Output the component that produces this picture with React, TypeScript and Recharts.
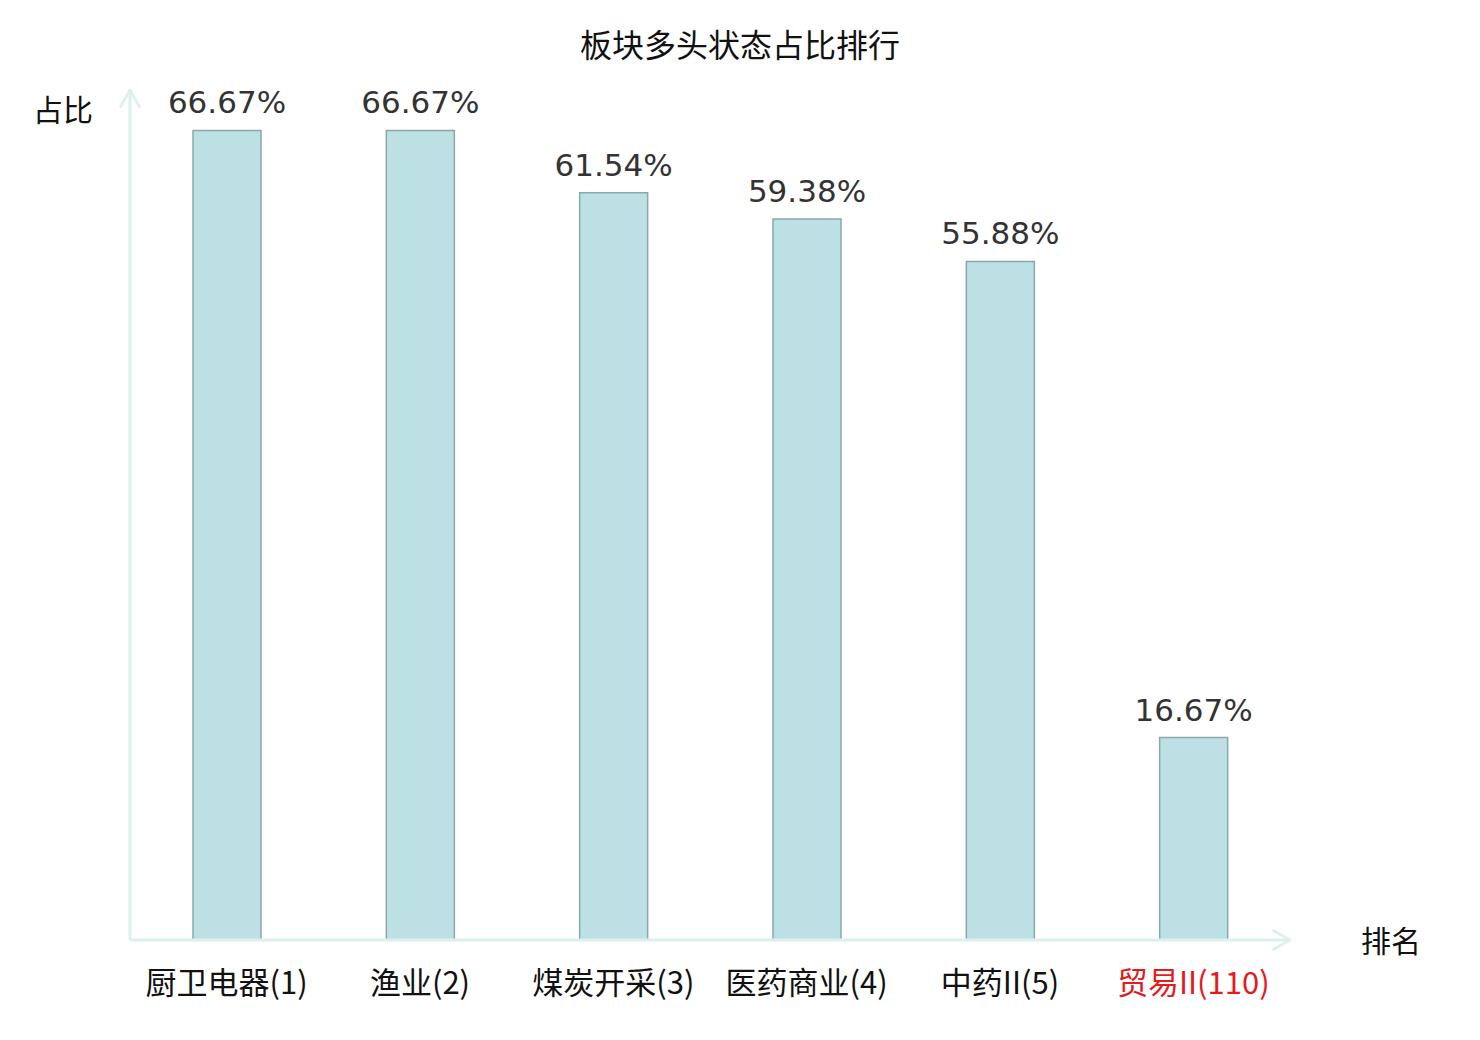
import React from "react";
import { BarChart, Bar, XAxis, YAxis, LabelList } from "recharts";

const categories = ["厨卫电器(1)", "渔业(2)", "煤炭开采(3)", "医药商业(4)", "中药II(5)", "贸易II(110)"];
const ratios = [66.67, 66.67, 61.54, 59.38, 55.88, 16.67];
const highlight = "贸易II(110)";

const data = categories.map((name, i) => ({ name, value: ratios[i] }));

const cjk = '"Noto Sans CJK SC", "Noto Sans", sans-serif';
const axisColor = "#dcf1ee";

function Tick(props: any) {
  const { x, y, payload } = props;
  const red = payload.value === highlight;
  return (
    <text
      x={x}
      y={y + 46}
      textAnchor="middle"
      fontSize={31}
      fontFamily={cjk}
      fill={red ? "#e41a1c" : "#111"}
    >
      {payload.value}
    </text>
  );
}

// arrowheads for the axis lines, defined inside the svg through a label
const ArrowDefs = () => (
  <defs>
    <marker
      id="arr"
      viewBox="0 0 20 20"
      refX="19"
      refY="10"
      markerWidth="22"
      markerHeight="22"
      orient="auto-start-reverse"
      markerUnits="userSpaceOnUse"
    >
      <path d="M3,1 L19,10 L3,19" fill="none" stroke={axisColor} strokeWidth="2.6" />
    </marker>
  </defs>
);

export default function App() {
  return (
    <div style={{ position: "absolute", left: 0, top: 0, width: 1480, height: 1040, background: "#fff" }}>
      <div
        style={{
          position: "absolute",
          top: 20,
          width: 1480,
          textAlign: "center",
          fontFamily: cjk,
          fontSize: 32,
          color: "#111",
        }}
      >
        板块多头状态占比排行
      </div>
      <BarChart
        width={1480}
        height={1040}
        data={data}
        margin={{ top: 90, right: 190, left: 120, bottom: 40 }}
        barCategoryGap={0}
      >
        <XAxis
          dataKey="name"
          height={60}
          interval={0}
          tickLine={false}
          axisLine={{ stroke: axisColor, strokeWidth: 3, markerEnd: "url(#arr)" } as any}
          tick={<Tick />}
          label={(p: any) => (
            <g>
              <ArrowDefs />
              <text
                x={p.viewBox.x + p.viewBox.width + 101}
                y={p.viewBox.y + 12}
                textAnchor="middle"
                fontSize={30}
                fontFamily={cjk}
                fill="#111"
              >
                排名
              </text>
            </g>
          )}
        />
        <YAxis
          width={10}
          domain={[0, 70]}
          tick={false}
          tickLine={false}
          axisLine={{ stroke: axisColor, strokeWidth: 3, markerStart: "url(#arr)" } as any}
          label={(p: any) => (
            <text
              x={p.viewBox.x + p.viewBox.width - 67}
              y={p.viewBox.y + 31}
              textAnchor="middle"
              fontSize={30}
              fontFamily={cjk}
              fill="#111"
            >
              占比
            </text>
          )}
        />
        <Bar dataKey="value" barSize={68} fill="#bce0e3" stroke="#8aa8a8" strokeWidth={1.5} isAnimationActive={false}>
          <LabelList
            dataKey="value"
            position="top"
            offset={17}
            formatter={(v: any) => `${Number(v).toFixed(2)}%`}
            style={{ fontSize: 31, fontFamily: '"DejaVu Sans", sans-serif', fill: "#333" }}
          />
        </Bar>
      </BarChart>
    </div>
  );
}
